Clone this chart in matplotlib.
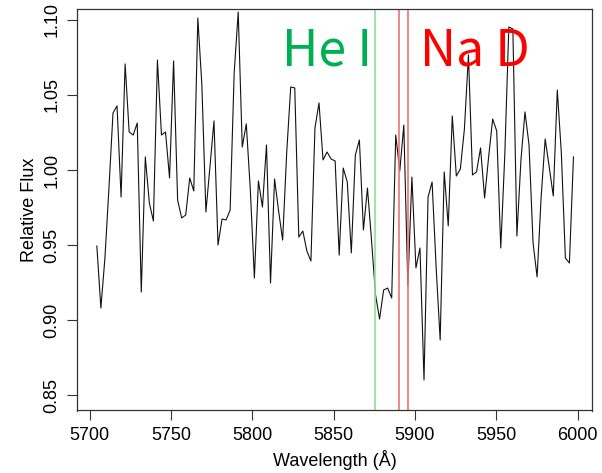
import numpy as np
import matplotlib
matplotlib.use("Agg")
import matplotlib.pyplot as plt

plt.rcParams['font.family'] = ['Liberation Sans', 'DejaVu Sans']

wl_start, wl_end, n_pts = 5704.5, 5997.5, 119
flux = [
    0.9493, 0.908, 0.9413, 0.988, 1.038, 1.0427, 0.982, 1.0707, 1.0253, 1.0233,
    1.0313, 0.9187, 1.0087, 0.978, 0.966, 1.0733, 1.0233, 1.0253, 0.9947, 1.0727,
    0.98, 0.968, 0.970, 0.9947, 0.986, 1.1013, 1.0567, 0.972, 1.002, 1.0327,
    0.950, 0.9673, 0.9667, 0.9733, 1.0647, 1.1053, 1.0153, 1.0307, 0.9867, 0.928,
    0.9927, 0.9753, 1.0167, 0.9247, 0.994, 0.9727, 0.9533, 1.0113, 1.0553, 1.0547,
    0.9553, 0.9593, 0.946, 0.9393, 1.028, 1.0447, 1.0067, 1.012, 1.0073, 1.006,
    0.9433, 1.0013, 0.992, 0.9447, 1.010, 1.020, 0.960, 0.988, 0.9533, 0.9167,
    0.9007, 0.920, 0.9213, 0.9147, 1.0233, 0.9993, 1.030, 0.9227, 0.9953, 0.9347,
    0.948, 0.860, 0.982, 0.992, 0.9353, 0.8867, 0.9987, 0.9627, 1.036, 0.996,
    1.0007, 1.0273, 1.0767, 0.9967, 0.9987, 1.0147, 0.9813, 1.0087, 1.034, 1.026,
    0.948, 1.010, 1.0953, 1.094, 0.956, 1.0067, 1.0387, 1.0167, 0.9513, 0.9287,
    0.982, 1.0207, 1.002, 0.9827, 1.0533, 1.0113, 0.9413, 0.938, 1.0087,
]
wavelength = np.linspace(wl_start, wl_end, n_pts)

he_line = [5875.6]
na_lines = [5889.95, 5895.92]
x_ticks = [5700, 5750, 5800, 5850, 5900, 5950, 6000]
y_ticks = [0.85, 0.90, 0.95, 1.00, 1.05, 1.10]

fig = plt.figure(figsize=(6.02, 4.73), dpi=100)
ax = fig.add_axes([77/602, 1 - 410.5/473, (592-77)/602, (410.5-9)/473])

ax.plot(wavelength, flux, color='#111111', lw=0.8)
for w in he_line:
    ax.axvline(w, color='#90e090', lw=1.2)
for w in na_lines:
    ax.axvline(w, color='#f07272', lw=1.2)

ax.text(5818.5, 1.0695, 'He I', color='#00b050', fontsize=36,
        family=['Noto Sans CJK JP', 'DejaVu Sans'], ha='left', va='baseline')
ax.text(5903.0, 1.0695, 'Na D', color='#ff0000', fontsize=36,
        family=['Noto Sans CJK JP', 'DejaVu Sans'], ha='left', va='baseline')

ax.set_xlim(5692.3, 6008.9)
ax.set_ylim(0.8397, 1.1073)
ax.set_xticks(x_ticks)
ax.set_yticks(y_ticks)
ax.set_xticklabels([str(t) for t in x_ticks])
ax.set_yticklabels(['%.2f' % t for t in y_ticks], rotation=90, va='center')
ax.tick_params(axis='both', direction='out', length=7, width=0.8,
               labelsize=13, pad=5, color='#333333')
for s in ax.spines.values():
    s.set_color('#333333')
    s.set_linewidth(0.9)

ax.set_xlabel('Wavelength (Å)', fontsize=13, labelpad=4)
ax.set_ylabel('Relative Flux', fontsize=13, labelpad=4)

fig.savefig('out.png', dpi=100)
